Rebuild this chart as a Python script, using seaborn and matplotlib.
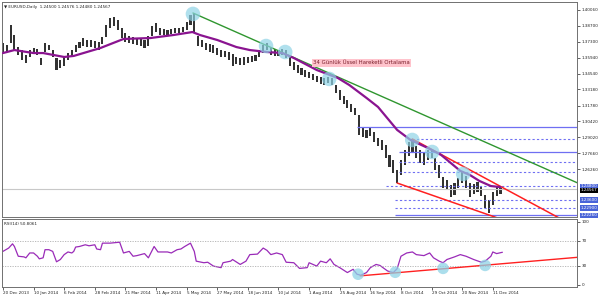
import numpy as np
import pandas as pd
import matplotlib
matplotlib.use("Agg")
import matplotlib.pyplot as plt
import seaborn as sns
from matplotlib.transforms import blended_transform_factory

# ---------------- data ----------------
# candle ranges, one entry per 2 daily bars (EURUSD daily, Dec 2013 - Dec 2014)
hi = [1.3720, 1.3703, 1.3876, 1.3789, 1.3685, 1.3659, 1.3616, 1.3659, 1.3677, 1.3668,
      1.3590, 1.3720, 1.3703, 1.3659, 1.3590, 1.3573, 1.3599, 1.3633, 1.3659, 1.3703,
      1.3729, 1.3763, 1.3746, 1.3746, 1.3737, 1.3729, 1.3772, 1.3876, 1.3937, 1.3945,
      1.3919, 1.3850, 1.3807, 1.3781, 1.3772, 1.3763, 1.3755, 1.3746, 1.3781, 1.3867,
      1.3893, 1.3850, 1.3841, 1.3833, 1.3841, 1.3850, 1.3850, 1.3859, 1.3902, 1.3963,
      1.3980, 1.3781, 1.3746, 1.3720, 1.3711, 1.3703, 1.3677, 1.3659, 1.3651, 1.3642,
      1.3625, 1.3599, 1.3590, 1.3599, 1.3599, 1.3608, 1.3616, 1.3659, 1.3703, 1.3720,
      1.3685, 1.3668, 1.3659, 1.3668, 1.3659, 1.3599, 1.3556, 1.3530, 1.3504, 1.3486,
      1.3469, 1.3452, 1.3434, 1.3426, 1.3417, 1.3426, 1.3417, 1.3356, 1.3313, 1.3261,
      1.3226, 1.3192, 1.3157, 1.3096, 1.2984, 1.2967, 1.2984, 1.2949, 1.2897, 1.2880,
      1.2837, 1.2750, 1.2707, 1.2620, 1.2707, 1.2793, 1.2863, 1.2889, 1.2828, 1.2793,
      1.2776, 1.2793, 1.2793, 1.2724, 1.2663, 1.2559, 1.2533, 1.2490, 1.2507, 1.2551,
      1.2603, 1.2568, 1.2507, 1.2499, 1.2516, 1.2481, 1.2404, 1.2360, 1.2430, 1.2481,
      1.2464]
lo = [1.3642, 1.3642, 1.3720, 1.3659, 1.3616, 1.3573, 1.3547, 1.3599, 1.3625, 1.3616,
      1.3530, 1.3642, 1.3659, 1.3599, 1.3486, 1.3504, 1.3521, 1.3573, 1.3599, 1.3642,
      1.3677, 1.3694, 1.3685, 1.3685, 1.3677, 1.3659, 1.3711, 1.3772, 1.3850, 1.3867,
      1.3833, 1.3763, 1.3729, 1.3720, 1.3711, 1.3703, 1.3694, 1.3677, 1.3694, 1.3781,
      1.3815, 1.3789, 1.3789, 1.3789, 1.3798, 1.3807, 1.3807, 1.3815, 1.3833, 1.3876,
      1.3815, 1.3694, 1.3685, 1.3659, 1.3642, 1.3633, 1.3616, 1.3599, 1.3599, 1.3573,
      1.3521, 1.3538, 1.3530, 1.3530, 1.3547, 1.3556, 1.3564, 1.3599, 1.3633, 1.3659,
      1.3616, 1.3608, 1.3608, 1.3616, 1.3590, 1.3521, 1.3486, 1.3460, 1.3443, 1.3426,
      1.3417, 1.3400, 1.3382, 1.3365, 1.3356, 1.3374, 1.3356, 1.3287, 1.3226, 1.3192,
      1.3157, 1.3123, 1.3096, 1.2923, 1.2906, 1.2897, 1.2915, 1.2863, 1.2828, 1.2793,
      1.2724, 1.2646, 1.2594, 1.2507, 1.2577, 1.2663, 1.2741, 1.2776, 1.2724, 1.2681,
      1.2663, 1.2707, 1.2724, 1.2620, 1.2551, 1.2464, 1.2447, 1.2386, 1.2404, 1.2464,
      1.2507, 1.2464, 1.2386, 1.2412, 1.2430, 1.2395, 1.2291, 1.2248, 1.2317, 1.2395,
      1.2412]
bars_per_entry = 2

# 34-day exponential moving average (bar index, price)
ema_bar = [0, 6, 16, 21, 32, 37, 51, 63, 77, 89, 99, 103, 112, 122, 129, 138, 146,
           152, 164, 175, 181, 190, 196, 206, 213, 222, 229, 234, 239, 244, 249, 255, 260]
ema_val = [1.3633, 1.3659, 1.3633, 1.3633, 1.3599, 1.3608, 1.3677, 1.3755, 1.3763,
           1.3789, 1.3815, 1.3789, 1.3746, 1.3685, 1.3659, 1.3642, 1.3633, 1.3590,
           1.3486, 1.3417, 1.3356, 1.3244, 1.3166, 1.2967, 1.2880, 1.2811, 1.2750,
           1.2681, 1.2612, 1.2577, 1.2525, 1.2481, 1.2472]

# RSI(14)
rsi_bar = [0, 3, 5, 6, 8, 11, 12, 14, 16, 18, 19, 21, 22, 24, 26, 28, 30, 32, 34, 36,
           37, 38, 40, 43, 45, 48, 49, 51, 52, 56, 59, 61, 63, 66, 68, 70, 72, 74, 76,
           79, 81, 86, 88, 91, 93, 95, 98, 100, 101, 105, 107, 110, 114, 115, 119, 120,
           124, 127, 129, 133, 136, 138, 140, 143, 146, 148, 152, 155, 159, 160, 164,
           166, 169, 171, 173, 176, 180, 183, 185, 187, 190, 192, 195, 197, 201, 204,
           206, 208, 211, 214, 216, 220, 223, 225, 228, 230, 232, 236, 239, 242, 246,
           250, 252, 255, 256, 258, 261]
rsi_val = [53.0, 58.3, 65.0, 60.8, 45.3, 44.3, 42.8, 50.5, 50.5, 45.3, 41.2, 42.8, 55.7,
           55.7, 53.0, 36.5, 40.1, 47.9, 52.1, 50.5, 53.0, 59.9, 60.8, 63.5, 61.9, 63.5,
           56.8, 55.7, 66.1, 66.1, 67.0, 67.6, 50.5, 53.0, 45.3, 46.3, 47.9, 49.5, 42.8,
           60.8, 52.1, 52.1, 50.5, 55.7, 56.8, 60.8, 66.1, 53.0, 37.5, 35.0, 35.8, 29.7,
           27.2, 35.0, 37.5, 40.1, 32.3, 37.5, 47.9, 48.7, 58.3, 54.6, 47.9, 50.5, 47.9,
           35.8, 35.0, 26.0, 27.2, 35.0, 29.7, 37.5, 35.0, 41.2, 32.3, 27.2, 19.4, 24.6,
           16.8, 15.2, 19.4, 27.2, 32.3, 30.7, 21.9, 19.4, 25.6, 45.3, 50.5, 52.1, 47.9,
           46.3, 50.5, 42.8, 37.5, 35.0, 40.1, 44.3, 47.9, 45.3, 40.1, 35.8, 37.5, 45.3,
           52.1, 49.5, 51.6]

# trend lines: (bar, value) end points
green_bar, green_val = [99.3, 300.0], [1.3980, 1.2510]
chan_top_bar, chan_top_val = [213.9, 300.0], [1.2889, 1.2121]
chan_bot_bar, chan_bot_val = [206.0, 300.0], [1.2507, 1.1965]
rsi_trend_bar, rsi_trend_val = [186.7, 300.6], [14.2, 43.7]

# highlighted swing points
swing_bar = [99.3, 137.5, 147.5, 170.5, 213.9, 224.3, 240.5]
swing_val = [1.3972, 1.3694, 1.3642, 1.3409, 1.2880, 1.2776, 1.2586]
rsi_swing_bar = [185.6, 205.0, 230.0, 252.0]
rsi_swing_val = [16.8, 19.9, 26.1, 30.8]

# horizontal levels
solid_levels = [1.2993, 1.2776, 1.2226]
solid_start = [185, 207, 205]
dotted_levels = [1.2889, 1.2689, 1.2603, 1.2480, 1.2360, 1.2290]
dotted_start = [214, 207, 207, 200, 205, 205]
bid = 1.24567

price_ticks = [1.40060, 1.38700, 1.37300, 1.35940, 1.34540, 1.33180, 1.31780,
               1.30420, 1.29020, 1.27660, 1.26260]
level_tags = [1.24800, 1.23600, 1.22900, 1.22260]
rsi_ticks = [0, 30, 70, 100]

date_labels = ["20 Dec 2013", "10 Jan 2014", "6 Feb 2014", "28 Feb 2014", "21 Mar 2014",
               "11 Apr 2014", "5 May 2014", "27 May 2014", "18 Jun 2014", "10 Jul 2014",
               "1 Aug 2014", "25 Aug 2014", "16 Sep 2014", "8 Oct 2014", "29 Oct 2014",
               "20 Nov 2014", "11 Dec 2014"]
date_bars = [16 * i for i in range(len(date_labels))]

# ---------------- plot ----------------
sns.set_style("white")
plt.rcParams['font.family'] = ['DejaVu Sans']
FS = 3.0

fig = plt.figure(figsize=(6, 2.97), dpi=100)
ax = fig.add_axes([0.0033, 0.2694, 0.9584, 0.7239])
ax2 = fig.add_axes([0.0033, 0.0337, 0.9584, 0.2289], sharex=ax)

candles = pd.DataFrame({"bar": np.arange(len(hi)) * bars_per_entry, "hi": hi, "lo": lo})
ax.bar(candles["bar"], candles["hi"] - candles["lo"], bottom=candles["lo"], width=1.1,
       color="#333333", edgecolor="none", linewidth=0, zorder=2)

ema = pd.DataFrame({"bar": ema_bar, "ema": ema_val})
sns.lineplot(data=ema, x="bar", y="ema", ax=ax, color="#8a1490", lw=1.6, zorder=3)

ax.hlines(solid_levels, solid_start, 300, colors="#6f6ff2", lw=0.9)
ax.hlines(dotted_levels, dotted_start, 300, colors="#6f6ff2", lw=0.8, linestyles=(0, (2, 2)))
ax.axhline(bid, color="#c8c8c8", lw=0.8)

sns.lineplot(x=green_bar, y=green_val, ax=ax, color="#2f962f", lw=1.0)
sns.lineplot(x=chan_top_bar, y=chan_top_val, ax=ax, color="#ff2020", lw=1.1)
sns.lineplot(x=chan_bot_bar, y=chan_bot_val, ax=ax, color="#ff2020", lw=1.1)

sns.scatterplot(x=swing_bar, y=swing_val, ax=ax, s=110, color="#8fd3e6", alpha=0.7,
                edgecolor="none", zorder=5)

ax.set_xlim(-0.5, 300)
ax.set_ylim(1.22129, 1.40753)
ax.set_xlabel("")
ax.set_ylabel("")
ax.yaxis.tick_right()
ax.set_yticks(price_ticks)
ax.set_yticklabels([f"{v:.5f}" for v in price_ticks], fontsize=FS)
ax.tick_params(axis="y", right=True, length=2, width=0.5, pad=1.5, colors="#222222")
ax.tick_params(axis="x", bottom=False, labelbottom=False)

blend = blended_transform_factory(ax.transAxes, ax.transData)
for lvl in level_tags:
    ax.text(1.006, lvl, f"{lvl:.5f}", transform=blend, fontsize=FS, color="white",
            va="center", ha="left", clip_on=False,
            bbox=dict(boxstyle="square,pad=0.15", fc="#4a64d8", ec="none"))
ax.text(1.006, bid - 0.0012, f"{bid:.5f}", transform=blend, fontsize=FS, color="white",
        va="center", ha="left", clip_on=False,
        bbox=dict(boxstyle="square,pad=0.1", fc="black", ec="none"))

ax.text(0.004, 0.985, "\u25bc EURUSD,Daily  1.24500 1.24576 1.24480 1.24567",
        transform=ax.transAxes, fontsize=FS, va="top", ha="left", color="#222222")
ax.text(162, 1.3547, "34 Günlük Üssel Hareketli Ortalama", fontsize=3.9,
        color="#7a1f2b", va="center", ha="left",
        bbox=dict(boxstyle="square,pad=0.2", fc="#ffc3cc", ec="none"))

# RSI panel
rsi = pd.DataFrame({"bar": rsi_bar, "rsi": rsi_val})
sns.lineplot(data=rsi, x="bar", y="rsi", ax=ax2, color="#9a2bb8", lw=0.9)
for lv in (30, 70):
    ax2.axhline(lv, color="#b0b0b0", lw=0.6, ls=(0, (1.5, 1.5)))
sns.lineplot(x=rsi_trend_bar, y=rsi_trend_val, ax=ax2, color="#ff2020", lw=1.0)
sns.scatterplot(x=rsi_swing_bar, y=rsi_swing_val, ax=ax2, s=70, color="#8fd3e6",
                alpha=0.75, edgecolor="none", zorder=5)
ax2.set_ylim(-3.5, 104.4)
ax2.set_xlabel("")
ax2.set_ylabel("")
ax2.yaxis.tick_right()
ax2.set_yticks(rsi_ticks)
ax2.set_yticklabels([str(v) for v in rsi_ticks], fontsize=FS)
ax2.tick_params(axis="y", right=True, length=2, width=0.5, pad=1.5, colors="#222222")
ax2.set_xticks(date_bars)
ax2.set_xticklabels(date_labels, fontsize=FS, ha="left")
ax2.tick_params(axis="x", bottom=True, length=2, width=0.5, pad=1.0, colors="#222222")
ax2.text(0.004, 0.95, "RSI(14) 50.8061", transform=ax2.transAxes, fontsize=FS,
         va="top", ha="left", color="#222222")

for a in (ax, ax2):
    for s in a.spines.values():
        s.set_color("#707070")
        s.set_linewidth(0.7)

fig.savefig("out.png", dpi=100)
